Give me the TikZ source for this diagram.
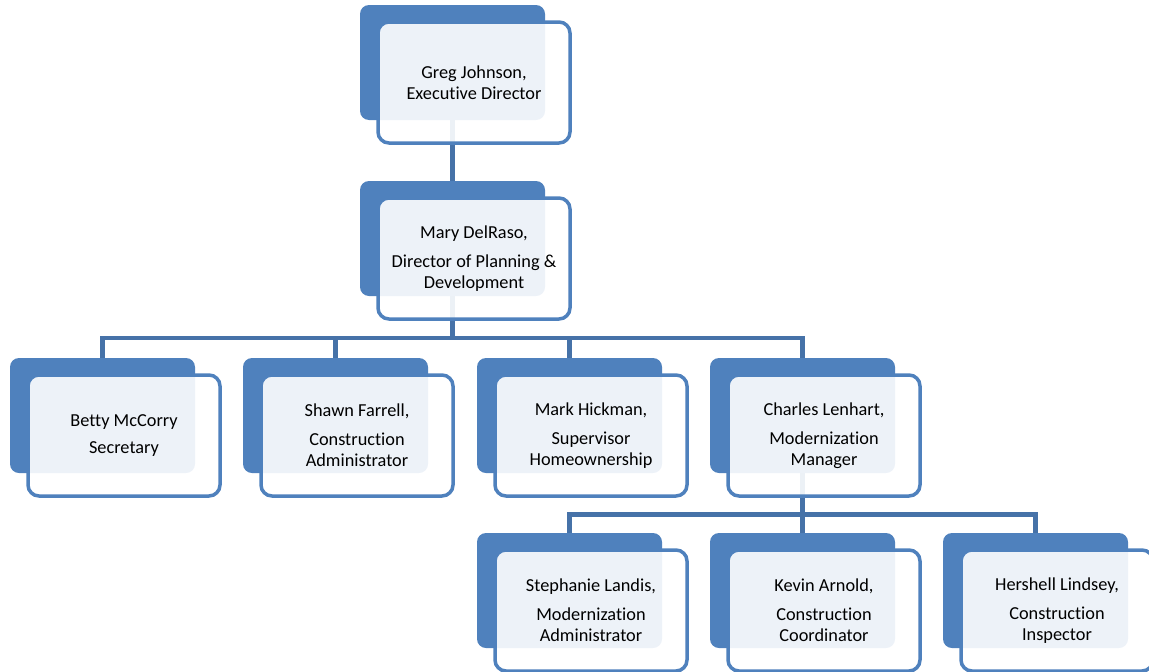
\documentclass[tikz,border=0pt]{standalone}
\usepackage{fontspec}
\setmainfont[Ligatures=NoCommon]{Carlito}
\usetikzlibrary{backgrounds}
\definecolor{accent}{HTML}{4F81BD}
\definecolor{conn}{RGB}{70,114,168}
\begin{document}
\begin{tikzpicture}[x=1pt,y=-1pt,
  back/.style={fill=accent, draw=none, rounded corners=9pt, inner sep=0pt,
    minimum width=185pt, minimum height=115pt},
  front/.style={draw=accent, line width=3.5pt, fill=white, fill opacity=0.9, text opacity=1,
    rounded corners=11pt, minimum width=192pt, minimum height=121pt, inner sep=0pt,
    align=center, font=\fontsize{18.3}{21}\selectfont, text=black},
  link/.style={draw=conn, line width=4.5pt}]
\useasboundingbox (0,0) rectangle (1149,672);
% \orgbox{name}{bx}{by}{text}
\newcommand{\orgbox}[4]{%
  \node[back] (#1b) at (#2+92.5,#3+57.5) {};
  \node[front] (#1) at (#2+114,#3+77.5) {#4};}
\orgbox{greg}{360}{5}{Greg Johnson,\\Executive Director}
\orgbox{mary}{360}{181}{Mary DelRaso,\\[8pt]Director of Planning \&\\Development}
\orgbox{betty}{10}{358}{Betty McCorry\\[6pt]Secretary}
\orgbox{shawn}{243}{358}{Shawn Farrell,\\[8pt]Construction\\Administrator}
\orgbox{mark}{477}{358}{Mark Hickman,\\[8pt]Supervisor\\Homeownership}
\orgbox{charles}{710}{358}{Charles Lenhart,\\[8pt]Modernization\\Manager}
\orgbox{steph}{477}{533}{Stephanie Landis,\\[8pt]Modernization\\Administrator}
\orgbox{kevin}{710}{533}{Kevin Arnold,\\[8pt]Construction\\Coordinator}
\orgbox{hershell}{943}{533}{Hershell Lindsey,\\[8pt]Construction\\Inspector}
\coordinate (bus1) at (0,338);
\coordinate (bus2) at (0,514.5);
\begin{pgfonlayer}{background}
  \draw[link] (gregb.center) -- (maryb.center);
  \draw[link] (maryb.center) -- (maryb.center |- bus1);
  \draw[link] (bettyb.center) -- (bettyb.center |- bus1) -- (charlesb.center |- bus1) -- (charlesb.center);
  \draw[link] (shawnb.center |- bus1) -- (shawnb.center);
  \draw[link] (markb.center |- bus1) -- (markb.center);
  \draw[link] (charlesb.center) -- (charlesb.center |- bus2);
  \draw[link] (stephb.center) -- (stephb.center |- bus2) -- (hershellb.center |- bus2) -- (hershellb.center);
  \draw[link] (kevinb.center |- bus2) -- (kevinb.center);
\end{pgfonlayer}
\end{tikzpicture}
\end{document}
